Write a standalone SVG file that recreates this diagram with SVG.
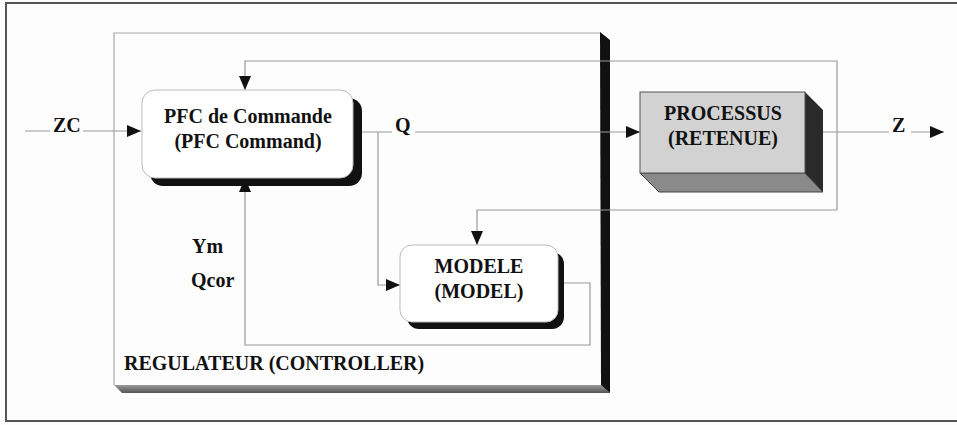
<svg xmlns="http://www.w3.org/2000/svg" width="957" height="425" viewBox="0 0 957 425">
  <style>
    .lbl { font-family: "Liberation Serif", "Times New Roman", serif; font-weight: bold; fill: #111; font-size: 20px; }
    .wire { fill: none; stroke: #9a9a9a; stroke-width: 1.2; }
    .frame { fill: none; stroke: #a8a8a8; stroke-width: 1.2; }
    .mask { fill: #fdfdfd; }
  </style>
  <defs>
    <marker id="arr" viewBox="0 0 14 12" refX="14" refY="6" markerWidth="14" markerHeight="12" markerUnits="userSpaceOnUse" orient="auto">
      <path d="M0,0 L14,6 L0,12 Z" fill="#111"/>
    </marker>
    <linearGradient id="barGrad" x1="0" y1="0" x2="0" y2="1">
      <stop offset="0" stop-color="#9a9a9a"/>
      <stop offset="1" stop-color="#555"/>
    </linearGradient>
  </defs>

  <rect width="957" height="425" fill="#fdfdfd"/>
  <!-- outer border -->
  <rect x="6" y="3" width="960" height="418" fill="none" stroke="#555" stroke-width="2"/>

  <!-- controller enclosure -->
  <g id="controller">
    <path class="frame" d="M114,385 L114,33 L601,33"/>
    <polygon points="114,385 601,385 610,393 122,393" fill="url(#barGrad)"/>
    <polygon points="600,32 610,40 610,393 601,385" fill="#111"/>
    <text class="lbl" x="124" y="370">REGULATEUR (CONTROLLER)</text>
  </g>

  <!-- connectors -->
  <g id="connectors">
    <!-- setpoint ZC into command -->
    <line class="wire" x1="25" y1="131" x2="141" y2="131" marker-end="url(#arr)"/>
    <!-- process output feedback to command (top) -->
    <path class="wire" d="M837,210 L837,61 L245,61 L245,90" marker-end="url(#arr)"/>
    <!-- process output feedback to model -->
    <path class="wire" d="M837,210 L477,210 L477,245" marker-end="url(#arr)"/>
    <!-- command output Q to process -->
    <line class="wire" x1="353" y1="132" x2="640" y2="132" marker-end="url(#arr)"/>
    <!-- Q branch to model -->
    <path class="wire" d="M378,132 L378,285 L400,285" marker-end="url(#arr)"/>
    <!-- model output back to command -->
    <path class="wire" d="M558,283 L590,283 L590,345 L245,345 L245,178" marker-end="url(#arr)"/>
    <!-- process output Z -->
    <line class="wire" x1="823" y1="132" x2="944" y2="132" marker-end="url(#arr)"/>
  </g>

  <!-- PFC command block -->
  <g id="pfc">
    <rect x="150" y="98" width="212" height="88" rx="13" fill="#111"/>
    <rect x="142" y="90" width="211" height="88" rx="13" fill="#fff" stroke="#bbb" stroke-width="1"/>
    <text class="lbl" x="248" y="123" text-anchor="middle">PFC de Commande</text>
    <text class="lbl" x="248" y="148" text-anchor="middle">(PFC Command)</text>
  </g>

  <!-- model block -->
  <g id="model">
    <rect x="407" y="252" width="157" height="77" rx="12" fill="#111"/>
    <rect x="400" y="245" width="158" height="77" rx="12" fill="#fff" stroke="#bbb" stroke-width="1"/>
    <text class="lbl" x="479" y="273" text-anchor="middle">MODELE</text>
    <text class="lbl" x="479" y="298" text-anchor="middle">(MODEL)</text>
  </g>

  <!-- process block (3D) -->
  <g id="process">
    <polygon points="640,173 805,173 823,192 659,192" fill="#8a8a8a" stroke="#444" stroke-width="1"/>
    <polygon points="805,92 823,110 823,192 805,173" fill="#2a2a2a"/>
    <rect x="640" y="92" width="165" height="81" fill="#d2d2d2" stroke="#555" stroke-width="1"/>
    <text class="lbl" x="723" y="120" text-anchor="middle">PROCESSUS</text>
    <text class="lbl" x="723" y="145" text-anchor="middle">(RETENUE)</text>
  </g>

  <!-- signal labels, knocked out of the wires they sit on -->
  <g id="labels">
    <rect class="mask" x="50" y="117" width="33" height="18"/>
    <text class="lbl" x="53" y="132">ZC</text>
    <rect class="mask" x="392" y="117" width="23" height="18"/>
    <text class="lbl" x="395" y="132">Q</text>
    <rect class="mask" x="889" y="117" width="22" height="18"/>
    <text class="lbl" x="892" y="132">Z</text>
    <text class="lbl" x="192" y="253">Ym</text>
    <text class="lbl" x="191" y="287">Qcor</text>
  </g>
</svg>
